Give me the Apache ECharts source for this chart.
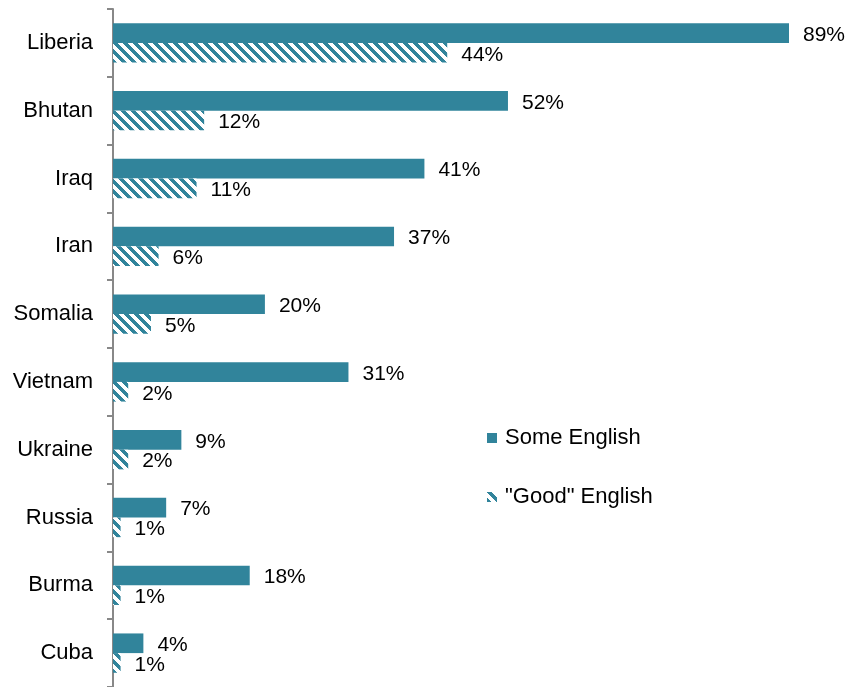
<!DOCTYPE html>
<html>
<head>
<meta charset="utf-8">
<script src="https://cdn.jsdelivr.net/npm/echarts@6/dist/echarts.min.js"></script>
<style>
  html, body { margin: 0; padding: 0; background: #fff; }
  #chart { width: 848px; height: 687px; }
</style>
</head>
<body>
<div id="chart"></div>
<script>
// Share of refugees by country of origin who speak English
const countries = ['Liberia', 'Bhutan', 'Iraq', 'Iran', 'Somalia', 'Vietnam', 'Ukraine', 'Russia', 'Burma', 'Cuba'];
const someEnglish = [89, 52, 41, 37, 20, 31, 9, 7, 18, 4];
const goodEnglish = [44, 12, 11, 6, 5, 2, 2, 1, 1, 1];
const seriesNames = ['Some English', '"Good" English'];

const TEAL = '#31849b';
const FONT = 'Liberation Sans, Arial, sans-serif';

// Diagonal stripe tile for the hatched series
function stripeTile() {
  const size = 10;
  const c = document.createElement('canvas');
  c.width = size; c.height = size;
  const ctx = c.getContext('2d');
  ctx.fillStyle = '#fff';
  ctx.fillRect(0, 0, size, size);
  ctx.fillStyle = TEAL;
  for (let y = 0; y < size; y++) {
    for (let x = 0; x < size; x++) {
      if (((x - y) % size + size) % size < 5) ctx.fillRect(x, y, 1, 1);
    }
  }
  return c;
}
const hatch = { image: stripeTile(), repeat: 'repeat' };

const valueLabel = {
  show: true,
  position: 'right',
  distance: 14,
  offset: [0, 2],
  formatter: '{c}%',
  fontFamily: FONT,
  fontSize: 21,
  color: '#000'
};

const chart = echarts.init(document.getElementById('chart'));
chart.setOption({
  animation: false,
  backgroundColor: '#fff',
  grid: { left: 113, top: 9, width: 676, height: 681, containLabel: false },
  legend: {
    orient: 'vertical',
    left: 482,
    top: 422,
    itemWidth: 10,
    itemHeight: 10,
    itemGap: 37,
    icon: 'rect',
    textStyle: { fontFamily: FONT, fontSize: 22, color: '#000', padding: [0, 0, 0, 3] },
    data: seriesNames
  },
  xAxis: {
    type: 'value',
    min: 0,
    max: 89,
    show: false
  },
  yAxis: {
    type: 'category',
    data: countries,
    inverse: true,
    axisLine: { show: true, lineStyle: { color: '#888', width: 2 } },
    axisTick: { show: true, length: 6, lineStyle: { color: '#888', width: 2 } },
    axisLabel: { margin: 20, fontFamily: FONT, fontSize: 22, color: '#000' },
    splitLine: { show: false }
  },
  series: [
    {
      name: seriesNames[0],
      type: 'bar',
      data: someEnglish,
      barGap: '0%',
      barCategoryGap: '42%',
      itemStyle: { color: TEAL },
      label: valueLabel
    },
    {
      name: seriesNames[1],
      type: 'bar',
      data: goodEnglish,
      barGap: '0%',
      barCategoryGap: '42%',
      itemStyle: { color: hatch },
      label: valueLabel
    }
  ]
});
</script>
</body>
</html>
